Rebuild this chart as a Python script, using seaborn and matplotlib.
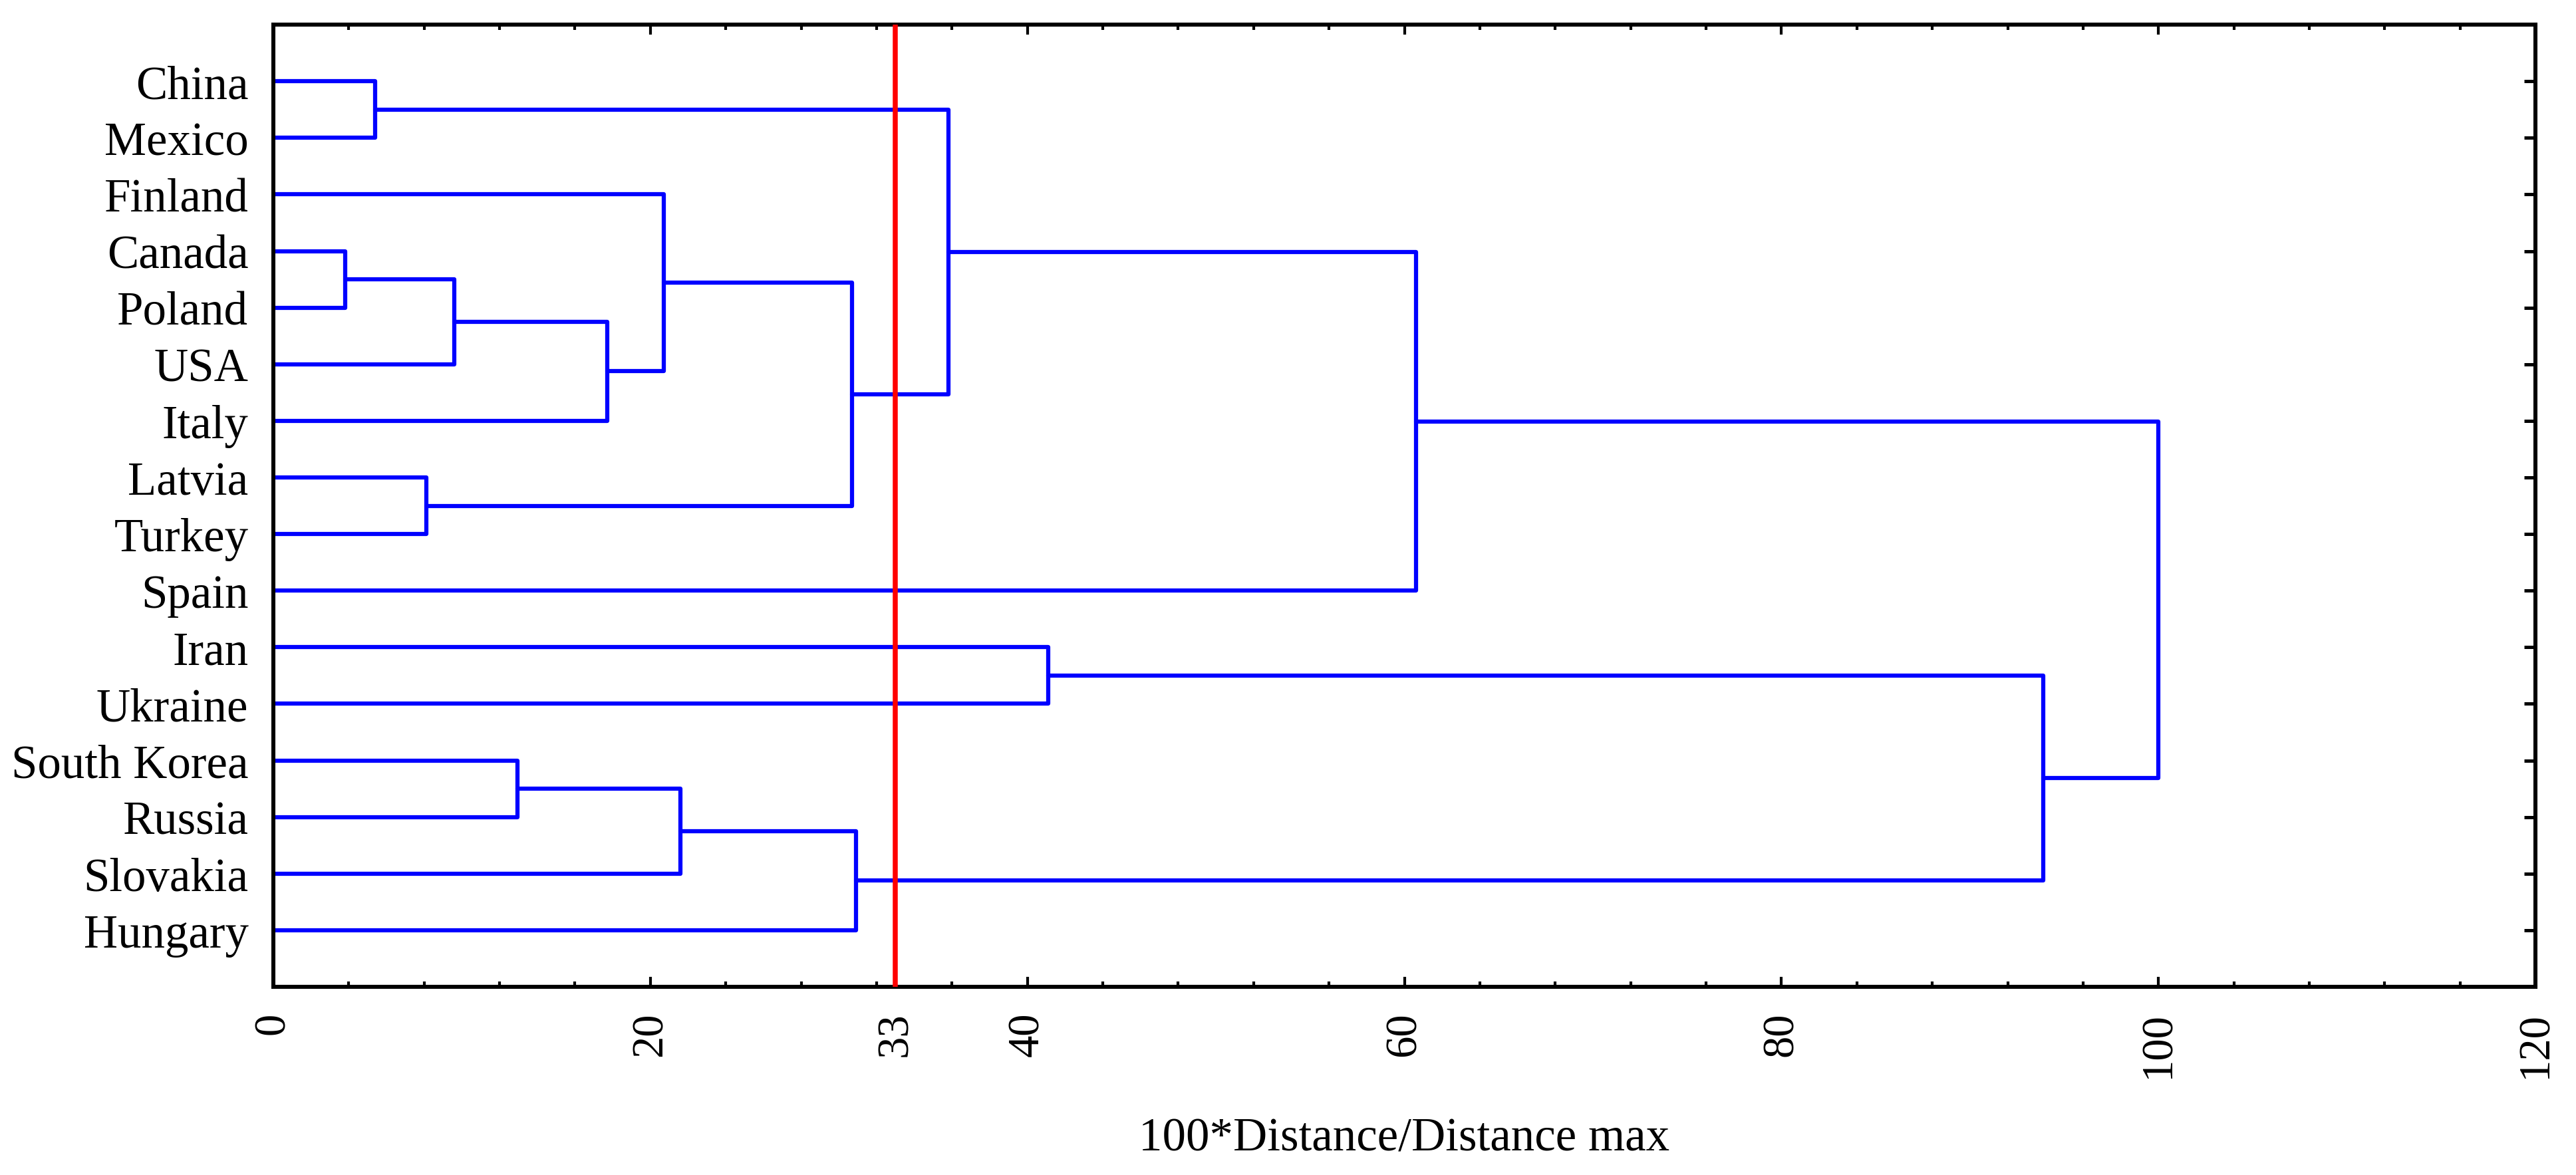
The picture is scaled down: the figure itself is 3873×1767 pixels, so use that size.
import pandas as pd
import matplotlib.pyplot as plt
import seaborn as sns
from matplotlib.ticker import MultipleLocator

# leaves, top to bottom
countries = ['China', 'Mexico', 'Finland', 'Canada', 'Poland', 'USA', 'Italy',
             'Latvia', 'Turkey', 'Spain', 'Iran', 'Ukraine', 'South Korea',
             'Russia', 'Slovakia', 'Hungary']

# merges: (upper member, lower member, linkage distance)
merge_a = ['Canada', 'China', 'Latvia', 'm0', 'South Korea', 'm3', 'Finland',
           'm4', 'm6', 'm7', 'm1', 'Iran', 'm10', 'm11', 'm12']
merge_b = ['Poland', 'Mexico', 'Turkey', 'USA', 'Russia', 'Italy', 'm5',
           'Slovakia', 'm2', 'Hungary', 'm8', 'Ukraine', 'Spain', 'm9', 'm13']
merge_dist = [3.8, 5.4, 8.1, 9.6, 12.95, 17.7, 20.7, 21.6, 30.7, 30.9,
              35.8, 41.1, 60.6, 93.9, 100.0]

cut_level = 33
x_ticks = [0, 20, 33, 40, 60, 80, 100, 120]


def build_links():
    pos = {c: (i, 0.0) for i, c in enumerate(countries)}
    rows = []
    for k, (a, b, d) in enumerate(zip(merge_a, merge_b, merge_dist)):
        ya, xa = pos[a]
        yb, xb = pos[b]
        for x, y in [(xa, ya), (d, ya), (d, yb), (xb, yb)]:
            rows.append({'link': k, 'x': x, 'y': y})
        pos['m%d' % k] = ((ya + yb) / 2, d)
    return pd.DataFrame(rows)


links = build_links()

sns.set_style('ticks')
plt.rcParams['font.family'] = ['Liberation Serif', 'DejaVu Serif']
plt.rcParams['text.color'] = 'black'
plt.rcParams['axes.labelcolor'] = 'black'
plt.rcParams['xtick.color'] = 'black'
plt.rcParams['ytick.color'] = 'black'

fig = plt.figure(figsize=(12.91, 5.893), dpi=300)
ax = fig.add_axes([0.1061, 0.1601, 0.8782, 0.8184])

sns.lineplot(data=links, x='x', y='y', units='link', estimator=None,
             sort=False, color='#0000ff', linewidth=1.5, ax=ax, legend=False)
ax.axvline(cut_level, color='#ff0000', linewidth=1.8, zorder=5)

ax.set_xlim(0, 120)
ax.set_ylim(len(countries), -1)
ax.set_yticks(range(len(countries)))
ax.set_yticklabels(countries, fontsize=17)
ax.set_xticks(x_ticks)
ax.set_xticklabels([str(t) for t in x_ticks], rotation=90, fontsize=16)
ax.xaxis.set_minor_locator(MultipleLocator(4))

ax.set_xlabel('100*Distance/Distance max', fontsize=17, labelpad=14)
ax.set_ylabel('')

for s in ax.spines.values():
    s.set_linewidth(1.45)
    s.set_color('black')

ax.tick_params(axis='x', which='major', direction='in', top=True, bottom=True,
               length=3.5, width=1.0, pad=9, colors='black')
ax.tick_params(axis='x', which='minor', direction='in', top=True, bottom=True,
               length=2.0, width=1.0, colors='black')
ax.tick_params(axis='y', which='major', direction='in', left=True, right=True,
               length=4.0, width=1.2, pad=9, colors='black')

fig.savefig('out.png', dpi=300)
